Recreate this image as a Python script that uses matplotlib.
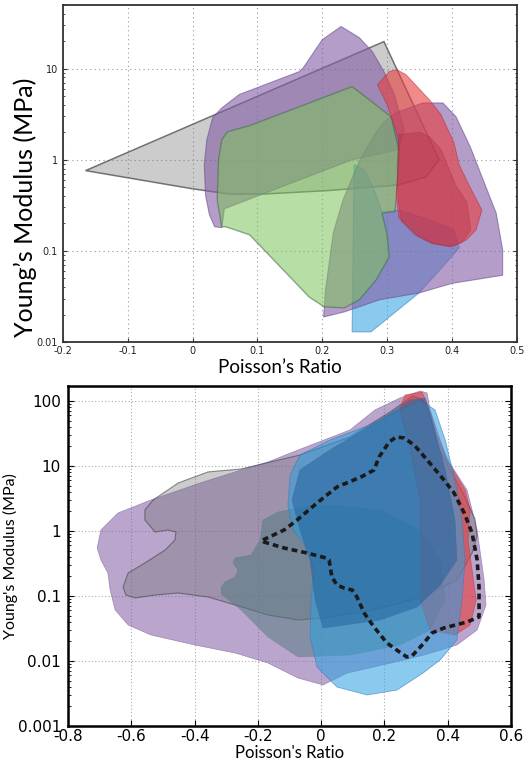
import numpy as np
import matplotlib
matplotlib.use('Agg')
import matplotlib.pyplot as plt

# ---------------- top panel data (Poisson's ratio, Young's modulus in MPa) ----------------
gray_nu = [-0.165, 0.295, 0.38, 0.36, 0.318, 0.211, 0.109, 0.057, 0.0]
gray_E = [0.76, 19.8, 1.0, 0.65, 0.53, 0.46, 0.42, 0.42, 0.48]

purpleA_nu = [0.034, 0.026, 0.020, 0.018, 0.022, 0.031, 0.045, 0.072, 0.165, 0.171, 0.200,
              0.229, 0.257, 0.277, 0.295, 0.311, 0.326, 0.318, 0.246, 0.049, 0.045]
purpleA_E = [0.184, 0.249, 0.41, 0.88, 1.66, 2.9, 3.7, 5.2, 9.3, 10.3, 20.8,
             29.0, 21.9, 15.4, 9.3, 5.2, 2.14, 1.29, 1.0, 0.29, 0.18]

cyan_nu = [0.246, 0.275, 0.349, 0.388, 0.411, 0.403, 0.365, 0.318, 0.292, 0.28, 0.265, 0.249]
cyan_E = [0.0129, 0.0129, 0.0345, 0.070, 0.108, 0.17, 0.22, 0.28, 0.27, 0.47, 0.78, 0.88]

purpleB_nu = [0.294, 0.314, 0.355, 0.386, 0.406, 0.428, 0.448, 0.468, 0.478, 0.478, 0.40,
              0.349, 0.288, 0.234, 0.202, 0.205, 0.217, 0.232, 0.258, 0.283]
purpleB_E = [2.55, 3.28, 4.2, 4.2, 2.97, 1.39, 0.60, 0.26, 0.103, 0.054, 0.044,
             0.0345, 0.029, 0.0214, 0.0188, 0.037, 0.158, 0.363, 1.0, 1.98]

green_nu = [0.045, 0.038, 0.04, 0.045, 0.054, 0.088, 0.246, 0.306, 0.318, 0.315, 0.312,
            0.292, 0.30, 0.303, 0.283, 0.257, 0.234, 0.203, 0.18, 0.088, 0.051]
green_E = [0.184, 0.363, 1.0, 1.66, 2.03, 2.37, 6.35, 2.97, 1.29, 0.47, 0.27,
           0.26, 0.15, 0.086, 0.048, 0.029, 0.0237, 0.0243, 0.031, 0.15, 0.184]

red_nu = [0.285, 0.303, 0.315, 0.329, 0.365, 0.383, 0.403, 0.411, 0.426, 0.446, 0.437,
          0.422, 0.40, 0.369, 0.349, 0.318, 0.314, 0.318, 0.318, 0.308, 0.30]
red_E = [6.67, 9.3, 9.75, 8.6, 4.56, 3.13, 1.54, 0.88, 0.53, 0.28, 0.17,
         0.132, 0.111, 0.122, 0.143, 0.23, 0.43, 0.88, 1.66, 2.75, 4.0]

red2_nu = [0.318, 0.35, 0.365, 0.383, 0.406, 0.423, 0.429, 0.415, 0.395, 0.369, 0.342, 0.322, 0.317, 0.315]
red2_E = [1.9, 2.0, 1.8, 1.3, 0.52, 0.34, 0.17, 0.122, 0.111, 0.12, 0.15, 0.21, 0.36, 0.88]

# ---------------- bottom panel data (E stored as log10 of MPa) ----------------
b_purple_nu = [-0.708, -0.696, -0.642, -0.538, -0.383, -0.253, -0.168, -0.073, 0.091, 0.170,
               0.249, 0.313, 0.335, 0.344, 0.366, 0.404, 0.461, 0.493, 0.515, 0.521, 0.493,
               0.429, 0.325, 0.221, 0.082, 0.006, -0.073, -0.168, -0.272, -0.399, -0.538,
               -0.610, -0.651, -0.667, -0.674, -0.696]
b_purple_logE = [-0.262, 0.015, 0.277, 0.477, 0.738, 0.938, 1.062, 1.246, 1.554, 1.862,
                 2.046, 2.154, 2.123, 1.862, 1.462, 1.062, 0.631, 0.015, -0.754, -1.138, -1.523,
                 -1.754, -1.908, -2.031, -2.185, -2.369, -2.262, -2.031, -1.877, -1.754, -1.6,
                 -1.446, -1.215, -0.908, -0.646, -0.446]

b_gray_nu = [-0.531, -0.452, -0.358, -0.253, -0.067, 0.091, 0.218, 0.290, 0.322, 0.344, 0.366,
             0.448, 0.486, 0.493, 0.477, 0.429, 0.322, 0.164, 0.006, -0.073, -0.168, -0.272,
             -0.358, -0.452, -0.525, -0.588, -0.617, -0.626, -0.610, -0.557, -0.493, -0.462,
             -0.459, -0.484, -0.525, -0.557, -0.557]
b_gray_logE = [0.477, 0.738, 0.908, 0.954, 1.169, 1.446, 1.831, 2.077, 2.015, 1.785, 1.323,
               0.585, 0.185, -0.077, -0.338, -0.754, -1.015, -1.215, -1.338, -1.369, -1.292, -1.138,
               -1.015, -0.954, -0.985, -1.031, -0.985, -0.862, -0.646, -0.492, -0.292, -0.138,
               -0.015, 0.015, -0.015, 0.169, 0.323]

b_slate_nu = [-0.316, -0.304, -0.272, -0.263, -0.279, -0.272, -0.222, -0.193, -0.184, -0.136,
              -0.073, 0.028, 0.186, 0.313, 0.376, 0.392, 0.344, 0.249, 0.091, -0.073, -0.168,
              -0.253, -0.316]
b_slate_logE = [-0.862, -0.785, -0.708, -0.600, -0.492, -0.415, -0.369, -0.138, 0.169, 0.292,
                0.354, 0.4, 0.323, 0.015, -0.446, -1.062, -1.523, -1.754, -1.908, -1.938, -1.631,
                -1.215, -0.969]

b_red_nu = [0.265, 0.319, 0.344, 0.398, 0.455, 0.471, 0.464, 0.477, 0.490, 0.471, 0.423,
            0.344, 0.313, 0.313, 0.281, 0.249]
b_red_logE = [2.092, 2.138, 1.862, 1.092, 0.631, 0.323, -0.138, -0.6, -1.062, -1.446, -1.6,
              -1.523, -1.062, 0.477, 1.246, 1.862]

b_cyan_nu = [-0.098, -0.067, 0.028, 0.154, 0.249, 0.313, 0.360, 0.392, 0.423, 0.445, 0.455,
             0.445, 0.429, 0.376, 0.322, 0.240, 0.145, 0.050, -0.013, -0.035, -0.032, -0.022,
             -0.051, -0.089, -0.105]
b_cyan_logE = [0.862, 1.169, 1.4, 1.631, 1.862, 2.015, 1.862, 1.4, 0.785, 0.169, -0.446,
               -1.062, -1.677, -1.985, -2.185, -2.446, -2.523, -2.4, -2.092, -1.631, -1.062, -0.6,
               -0.215, 0.015, 0.4]

b_steel_nu = [-0.067, 0.028, 0.186, 0.281, 0.328, 0.350, 0.392, 0.423, 0.429, 0.376, 0.303,
              0.186, 0.006, -0.019, -0.035, -0.067, -0.092]
b_steel_logE = [0.938, 1.246, 1.708, 2.015, 2.046, 1.708, 0.938, 0.169, -0.446, -0.831, -1.169,
                -1.369, -1.492, -1.062, -0.446, 0.015, 0.477]

dash_nu = [-0.184, -0.117, -0.076, -0.013, 0.050, 0.126, 0.167, 0.183, 0.215, 0.237, 0.262,
           0.294, 0.335, 0.388, 0.420, 0.452, 0.477, 0.493, 0.499, 0.499, 0.461, 0.388, 0.350,
           0.325, 0.287, 0.271, 0.252, 0.208, 0.167, 0.136, 0.113, 0.098, 0.072, 0.050, 0.034,
           0.025, 0.015, -0.045, -0.117, -0.181, -0.184]
dash_logE = [-0.138, 0.015, 0.169, 0.431, 0.677, 0.831, 0.938, 1.138, 1.369, 1.446, 1.431,
             1.323, 1.092, 0.785, 0.585, 0.277, -0.031, -0.446, -0.862, -1.323, -1.4, -1.492, -1.569,
             -1.723, -1.923, -1.938, -1.877, -1.723, -1.477, -1.262, -1.015, -0.908, -0.877, -0.831,
             -0.708, -0.446, -0.415, -0.338, -0.262, -0.169, -0.138]

top_xticks = [-0.2, -0.1, 0, 0.1, 0.2, 0.3, 0.4, 0.5]
top_xlabels = ['-0.2', '-0.1', '0', '0.1', '0.2', '0.3', '0.4', '0.5']
top_yticks = [0.01, 0.1, 1, 10]
top_ylabels = ['0.01', '0.1', '1', '10']
bot_xticks = [-0.8, -0.6, -0.4, -0.2, 0, 0.2, 0.4, 0.6]
bot_xlabels = ['-0.8', '-0.6', '-0.4', '-0.2', '0', '0.2', '0.4', '0.6']
bot_yticks = [0.001, 0.01, 0.1, 1, 10, 100]
bot_ylabels = ['0.001', '0.01', '0.1', '1', '10', '100']

PURPLE = '#825ca5'
GRAY = '#6f6f6f'
GREEN = '#7cc35a'
RED = '#e83c3c'
CYAN = '#2aa0e0'
LABEL_FONT = ['Lato', 'DejaVu Sans']

fig = plt.figure(figsize=(5.28, 7.63), dpi=100)

# ---------------- top panel ----------------
ax1 = fig.add_axes([0.119, 0.5518, 0.860, 0.4417])
ax1.set_yscale('log')
ax1.fill(gray_nu, gray_E, facecolor=GRAY, alpha=0.35, zorder=2)
ax1.fill(gray_nu, gray_E, facecolor='none', edgecolor='#555555', lw=1.1, alpha=0.8, zorder=2)
ax1.fill(purpleA_nu, purpleA_E, facecolor=PURPLE, alpha=0.6, edgecolor='#6a4f90', lw=0.8, zorder=3)
ax1.fill(cyan_nu, cyan_E, facecolor=CYAN, alpha=0.55, edgecolor='#3a80b8', lw=0.8, zorder=4)
ax1.fill(purpleB_nu, purpleB_E, facecolor=PURPLE, alpha=0.6, edgecolor='#6a4f90', lw=0.8, zorder=5)
ax1.fill(green_nu, green_E, facecolor=GREEN, alpha=0.55, edgecolor='#3f6e45', lw=1.0, zorder=6)
ax1.fill(red_nu, red_E, facecolor=RED, alpha=0.6, edgecolor='#b03040', lw=0.6, zorder=7)
ax1.fill(red2_nu, red2_E, facecolor='#b02040', alpha=0.3, edgecolor='#902040', lw=0.5, zorder=8)

ax1.set_xlim(-0.2, 0.5)
ax1.set_ylim(0.01, 50)
ax1.set_xticks(top_xticks)
ax1.set_xticklabels(top_xlabels)
ax1.set_yticks(top_yticks)
ax1.set_yticklabels(top_ylabels)
ax1.tick_params(axis='both', which='both', direction='in', top=False, right=True,
                labelsize=7, color='#333333', labelcolor='#222222')
ax1.tick_params(axis='x', pad=3)
ax1.tick_params(axis='y', pad=3.5)
ax1.tick_params(which='major', length=3)
ax1.tick_params(which='minor', length=1.5)
ax1.grid(True, which='major', ls=(0, (1, 3)), color='#999999', lw=0.8, zorder=0)
for s in ax1.spines.values():
    s.set_color('#333333')
    s.set_linewidth(1.3)
ax1.set_xlabel('Poisson’s Ratio', fontsize=13.5, family=LABEL_FONT)
ax1.set_ylabel('Young’s Modulus (MPa)', fontsize=18, family=LABEL_FONT)
ax1.xaxis.set_label_coords(0.478, -0.05)
ax1.yaxis.set_label_coords(-0.057, 0.40)

# ---------------- bottom panel ----------------
ax2 = fig.add_axes([0.1288, 0.0485, 0.839, 0.4456])
ax2.set_yscale('log')


def blob(nu, logE, color, alpha, edge, lw, z):
    E = 10 ** np.array(logE)
    ax2.fill(nu, E, facecolor=color, alpha=alpha, zorder=z)
    ax2.fill(nu, E, facecolor='none', edgecolor=edge, lw=lw, alpha=0.6, zorder=z,
             joinstyle='round')


blob(b_purple_nu, b_purple_logE, PURPLE, 0.55, '#7a5a9a', 0.5, 2)
blob(b_gray_nu, b_gray_logE, GRAY, 0.35, '#444444', 0.8, 3)
blob(b_slate_nu, b_slate_logE, '#4f7a80', 0.5, '#4f7a80', 0.3, 4)
blob(b_red_nu, b_red_logE, RED, 0.6, '#c03040', 0.5, 5)
blob(b_cyan_nu, b_cyan_logE, CYAN, 0.55, '#3a78b8', 0.6, 6)
blob(b_steel_nu, b_steel_logE, '#1f5f9a', 0.5, '#3a68a8', 0.5, 7)
ax2.plot(dash_nu, 10 ** np.array(dash_logE), color='#1a1a1a', lw=2.6, ls=(0, (1.6, 1.1)), zorder=9)

ax2.set_xlim(-0.8, 0.6)
ax2.set_ylim(0.001, 170)
ax2.set_xticks(bot_xticks)
ax2.set_xticklabels(bot_xlabels)
ax2.set_yticks(bot_yticks)
ax2.set_yticklabels(bot_ylabels)
ax2.tick_params(axis='both', which='both', direction='in', top=False, right=True,
                labelsize=11, color='black')
ax2.tick_params(axis='x', pad=2.5)
ax2.tick_params(axis='y', pad=5)
ax2.tick_params(which='major', length=4)
ax2.tick_params(which='minor', length=2)
ax2.grid(True, which='major', ls=(0, (1, 2)), color='#aaaaaa', lw=0.8, zorder=0)
for s in ax2.spines.values():
    s.set_color('black')
    s.set_linewidth(1.8)
ax2.set_xlabel("Poisson's Ratio", fontsize=12, family=LABEL_FONT, labelpad=0.5)
ax2.set_ylabel("Young's Modulus (MPa)", fontsize=11.5, family=LABEL_FONT, labelpad=0)

fig.savefig('out.png', dpi=100)
